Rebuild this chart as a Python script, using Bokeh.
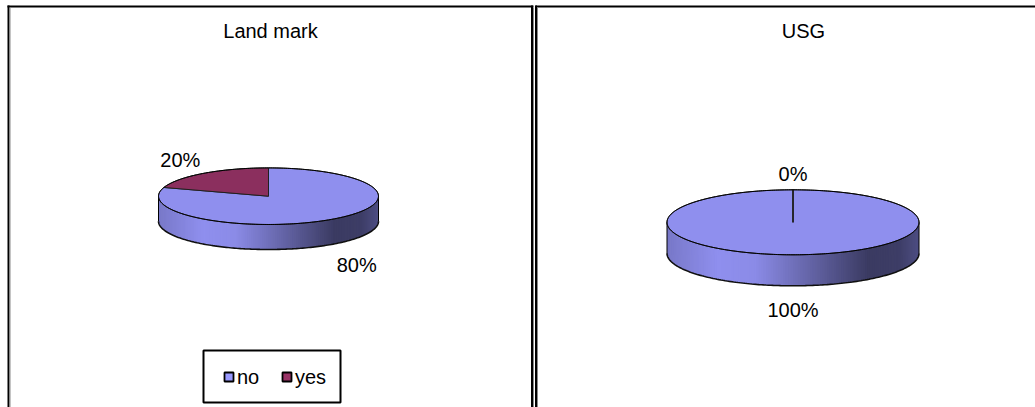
import math

from bokeh.core.properties import value
from bokeh.embed import file_html
from bokeh.models import Range1d
from bokeh.plotting import figure
from bokeh.resources import INLINE

# ---- data -------------------------------------------------------------
categories = ["no", "yes"]
titles = ["Land mark", "USG"]
landmark_pct = [80, 20]
usg_pct = [100, 0]

top_colors = ["#8F8FEE", "#8B2F5E"]      # top face of each slice
legend_colors = ["#9999FF", "#993366"]   # legend keys

FONT = value("Liberation Sans")
FONT_SIZE = "20px"

W, H = 1035, 407

# ---- panel layout (pixels, y grows downwards) -------------------------
panels = [
    dict(title=titles[0], values=landmark_pct, cx=268.0, cy=195.7,
         rx=110.0, ry=28.3, depth=25.0, title_x=270.0),
    dict(title=titles[1], values=usg_pct, cx=792.5, cy=221.8,
         rx=126.0, ry=32.5, depth=31.0, title_x=803.0),
]

p = figure(width=W, height=H, x_range=Range1d(0, W), y_range=Range1d(H, 0),
           toolbar_location=None, output_backend="svg", min_border=0,
           x_axis_location=None, y_axis_location=None)
p.grid.visible = False
p.outline_line_color = None
p.background_fill_color = "white"
p.border_fill_color = "white"

# side shading: (position across the pie 0..1, brightness factor)
shade_stops = [(0.0, 0.84), (0.2, 1.0), (0.35, 0.97), (0.6, 0.66),
               (0.8, 0.41), (0.92, 0.43), (1.0, 0.55)]


def shade(t):
    for (t0, f0), (t1, f1) in zip(shade_stops, shade_stops[1:]):
        if t <= t1:
            u = (t - t0) / (t1 - t0) if t1 > t0 else 0
            return f0 + (f1 - f0) * u
    return shade_stops[-1][1]


def scaled(hex_color, f):
    r, g, b = (int(hex_color[i:i + 2], 16) for i in (1, 3, 5))
    return "#%02x%02x%02x" % tuple(max(0, min(255, int(round(c * f)))) for c in (r, g, b))


def rim(cx, cy, rx, ry, deg):
    a = math.radians(deg)
    return cx + rx * math.cos(a), cy - ry * math.sin(a)


for pn in panels:
    vals = pn["values"]
    total = float(sum(vals))
    cx, cy, rx, ry, d = pn["cx"], pn["cy"], pn["rx"], pn["ry"], pn["depth"]

    # slice angles, clockwise from 12 o'clock
    cum = [0.0]
    for v in vals:
        cum.append(cum[-1] + v)
    angles = [(90 - 360 * cum[i] / total, 90 - 360 * cum[i + 1] / total)
              for i in range(len(vals))]

    def slice_at(deg):
        frac = ((90 - deg) % 360) / 360.0
        for i in range(len(vals)):
            if cum[i + 1] / total > frac:
                return i
        return len(vals) - 1

    # front wall of the cylinder: shaded strips, each one overlapping the
    # next so that no seams show between them
    n = 160
    xs, ys, cols = [], [], []
    for k in range(n):
        a0 = 180 + 180 * k / n
        a1 = 180 + 180 * min(k + 3, n) / n
        am = 180 + 180 * (k + 0.5) / n
        pts = [rim(cx, cy, rx, ry, a0 + (a1 - a0) * j / 3) for j in range(4)]
        xm, _ = rim(cx, cy, rx, ry, am)
        t = (xm - (cx - rx)) / (2 * rx)
        c = scaled(top_colors[slice_at(am)], shade(t))
        xs.append([q[0] for q in pts] + [q[0] for q in reversed(pts)])
        ys.append([q[1] for q in pts] + [q[1] + d for q in reversed(pts)])
        cols.append(c)
    p.patches(xs, ys, fill_color=cols, line_color=None)

    # wall outline: vertical ends and bottom edge
    bx, by = [], []
    for k in range(n + 1):
        x, y = rim(cx, cy, rx, ry, 180 + 180 * k / n)
        bx.append(x)
        by.append(y + d)
    p.line(bx, by, line_color="#101010", line_width=1.6)
    for deg in (180, 360):
        x, y = rim(cx, cy, rx, ry, deg)
        p.line([x, x], [y, y + d], line_color="black", line_width=1)

    # top face slices
    sx, sy = [], []
    for a0, a1 in angles:
        steps = max(2, int(abs(a0 - a1) / 2) + 1)
        px, py = [cx], [cy]
        for k in range(steps + 1):
            x, y = rim(cx, cy, rx, ry, a0 + (a1 - a0) * k / steps)
            px.append(x)
            py.append(y)
        sx.append(px)
        sy.append(py)
    p.patches(sx, sy, fill_color=top_colors[:len(vals)], line_color="#202020",
              line_width=1)

    # rim of the top face
    ex, ey = [], []
    for k in range(361):
        x, y = rim(cx, cy, rx, ry, k)
        ex.append(x)
        ey.append(y)
    p.line(ex, ey, line_color="black", line_width=1)

    # percentage labels outside the pie at each slice's mid-angle
    lx, ly, lt = [], [], []
    for v, (a0, a1) in zip(vals, angles):
        m = math.radians((a0 + a1) / 2)
        lx.append(cx + (rx + 40) * math.cos(m))
        y = cy - (ry + 16) * math.sin(m)
        if math.sin(m) < -1e-9:
            y += d + 8
        ly.append(y)
        lt.append(f"{v:g}%")
    p.text(lx, ly, text=lt, text_font=FONT, text_font_size=FONT_SIZE,
           text_align="center", text_baseline="middle", text_color="black")

    p.text([pn["title_x"]], [30], text=[pn["title"]], text_font=FONT,
           text_font_size=FONT_SIZE, text_align="center",
           text_baseline="middle", text_color="black")

# ---- panel frames -----------------------------------------------------
p.segment(x0=[7, 535], y0=[6, 6], x1=[533, W + 5], y1=[6, 6],
          line_color="black", line_width=2)
p.segment(x0=[8, 531.5, 535.5], y0=[5, 5, 5], x1=[8, 531.5, 535.5],
          y1=[H + 5] * 3, line_color="black", line_width=2)
p.segment(x0=[9.5, 533, 537], y0=[7, 7, 7], x1=[9.5, 533, 537],
          y1=[H + 5] * 3, line_color="#8a8a8a", line_width=1)

# ---- legend -----------------------------------------------------------
lg_left, lg_top, lg_right, lg_bottom = 203, 350, 340, 402
p.quad(left=[lg_left], right=[lg_right], top=[lg_top], bottom=[lg_bottom],
       fill_color="white", line_color="black", line_width=2)
key_x = [lg_left + 25.5 + 58 * i for i in range(len(categories))]
key_y = [(lg_top + lg_bottom) / 2 + 0.5] * len(categories)
p.rect(key_x, key_y, width=9, height=9, fill_color=legend_colors,
       line_color="black", line_width=1.8)
p.text([x + 8 for x in key_x], key_y, text=categories, text_font=FONT,
       text_font_size=FONT_SIZE, text_align="left", text_baseline="middle",
       text_color="black")

open("out.html", "w").write(file_html(p, INLINE))
